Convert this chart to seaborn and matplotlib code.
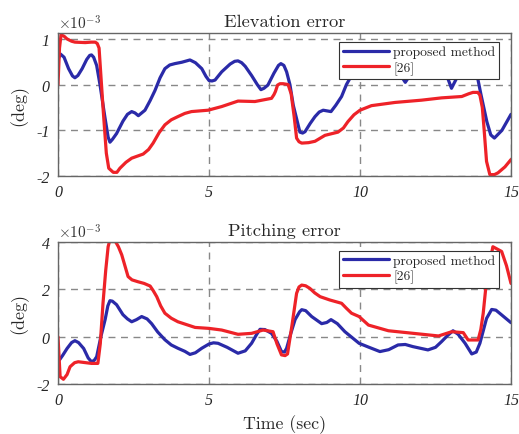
import matplotlib
matplotlib.use("Agg")
import matplotlib.pyplot as plt
import seaborn as sns
import pandas as pd

# ---- data (values in units of 1e-3 deg) ----
t_elev_prop = [0, 0.08, 0.2, 0.35, 0.48, 0.56, 0.66, 0.8, 0.95, 1.05, 1.11, 1.18, 1.28, 1.39, 1.55, 1.66,
               1.72, 1.8, 1.94, 2.15, 2.3, 2.44, 2.55, 2.66, 2.88, 3.05, 3.21, 3.38, 3.54, 3.7, 3.87, 4.1,
               4.37, 4.55, 4.76, 4.9, 5.0, 5.1, 5.2, 5.42, 5.7, 5.85, 5.96, 6.08, 6.2, 6.41, 6.6, 6.72,
               6.82, 6.95, 7.15, 7.3, 7.38, 7.48, 7.57, 7.68, 7.79, 8.01, 8.1, 8.18, 8.35, 8.51, 8.65,
               8.78, 9.04, 9.2, 9.39, 9.55, 9.72, 10.0, 10.4, 10.9, 11.3, 11.5, 11.7, 12.2, 12.7, 13.03,
               13.4, 13.75, 13.9, 14.0, 14.2, 14.33, 14.45, 14.7, 15.0]
v_elev_prop = [0.55, 0.67, 0.6, 0.35, 0.19, 0.15, 0.2, 0.35, 0.55, 0.64, 0.65, 0.6, 0.42, 0.0, -0.7, -1.15,
               -1.26, -1.2, -1.07, -0.8, -0.65, -0.59, -0.62, -0.68, -0.56, -0.35, -0.13, 0.15, 0.35, 0.43, 0.46, 0.49,
               0.54, 0.48, 0.35, 0.18, 0.09, 0.08, 0.1, 0.28, 0.45, 0.51, 0.52, 0.48, 0.4, 0.2, 0.0, -0.11,
               -0.08, -0.01, 0.25, 0.42, 0.46, 0.42, 0.28, 0.0, -0.45, -1.04, -1.06, -1.03, -0.85, -0.7, -0.6,
               -0.56, -0.59, -0.45, -0.26, 0.0, 0.2, 0.6, 0.8, 0.7, 0.25, 0.05, 0.25, 0.6, 0.5, -0.08,
               0.4, 0.7, 0.13, -0.2, -0.81, -1.1, -1.17, -1.0, -0.65]

t_elev_ref = [0, 0.05, 0.1, 0.2, 0.3, 0.45, 0.56, 0.9, 1.1, 1.23, 1.3, 1.36, 1.42, 1.5, 1.6, 1.68, 1.83,
              1.95, 2.05, 2.25, 2.44, 2.65, 2.82, 3.0, 3.15, 3.35, 3.54, 3.75, 3.97, 4.2, 4.42, 4.97,
              5.42, 5.96, 6.52, 7.07, 7.15, 7.2, 7.27, 7.35, 7.45, 7.55, 7.62, 7.72, 7.82, 7.9, 7.98, 8.07,
              8.3, 8.51, 8.84, 9.27, 9.45, 9.6, 9.8, 10.0, 10.38, 11.16, 12.04, 12.7, 13.37, 13.6,
              13.74, 13.9, 13.97, 14.05, 14.1, 14.19, 14.3, 14.45, 14.57, 14.8, 15.0]
v_elev_ref = [0.0, 0.8, 1.09, 1.06, 1.0, 0.95, 0.93, 0.92, 0.93, 0.93, 0.9, 0.8, 0.2, -0.59, -1.5, -1.83, -1.92,
              -1.92, -1.83, -1.7, -1.61, -1.56, -1.52, -1.42, -1.28, -1.05, -0.88, -0.77, -0.7, -0.63, -0.59, -0.56,
              -0.48, -0.36, -0.37, -0.3, -0.22, -0.15, -0.01, 0.02, 0.02, 0.01, 0.0, -0.2, -0.7, -1.17, -1.25, -1.28,
              -1.27, -1.24, -1.11, -1.04, -0.95, -0.81, -0.66, -0.56, -0.46, -0.39, -0.34, -0.29, -0.26, -0.2,
              -0.17, -0.17, -0.23, -0.5, -0.9, -1.68, -1.97, -1.97, -1.93, -1.8, -1.64]

t_pitch_prop = [0, 0.05, 0.15, 0.3, 0.45, 0.56, 0.68, 0.85, 1.0, 1.11, 1.2, 1.28, 1.42, 1.56, 1.65, 1.72,
                1.8, 1.94, 2.15, 2.3, 2.44, 2.6, 2.77, 2.95, 3.1, 3.3, 3.54, 3.75, 3.97, 4.2, 4.37, 4.55,
                4.76, 5.0, 5.15, 5.3, 5.6, 5.96, 6.2, 6.41, 6.58, 6.69, 6.85, 7.07, 7.25, 7.4, 7.5, 7.57,
                7.7, 7.85, 8.0, 8.07, 8.2, 8.4, 8.73, 8.9, 9.04, 9.25, 9.5, 9.97, 10.3, 10.66, 10.95, 11.26,
                11.5, 11.75, 12.25, 12.5, 12.7, 12.9, 13.08, 13.25, 13.48, 13.7, 13.85, 13.97, 14.19, 14.36,
                14.5, 14.69, 15.0]
v_pitch_prop = [-0.9, -0.98, -0.8, -0.5, -0.25, -0.17, -0.25, -0.5, -0.9, -1.06, -1.0, -0.85, 0.0, 0.72, 1.3, 1.52,
                1.5, 1.35, 0.93, 0.75, 0.63, 0.72, 0.85, 0.75, 0.55, 0.2, -0.13, -0.35, -0.49, -0.62, -0.75, -0.68,
                -0.49, -0.31, -0.26, -0.28, -0.45, -0.7, -0.6, -0.28, 0.1, 0.31, 0.3, 0.14, -0.2, -0.63, -0.65, -0.49,
                0.1, 0.72, 1.05, 1.14, 1.1, 0.85, 0.55, 0.6, 0.72, 0.55, 0.21, -0.28, -0.45, -0.63, -0.55, -0.35,
                -0.33, -0.42, -0.56, -0.45, -0.21, 0.05, 0.25, 0.1, -0.28, -0.73, -0.65, -0.28, 0.77, 1.15,
                1.12, 0.92, 0.59]

t_pitch_ref = [0, 0.07, 0.18, 0.3, 0.4, 0.55, 0.67, 1.11, 1.32, 1.4, 1.49, 1.58, 1.66, 1.72, 1.89, 2.0, 2.11,
               2.32, 2.45, 2.65, 2.85, 3.05, 3.15, 3.27, 3.4, 3.54, 3.75, 3.97, 4.54, 5.0, 5.42, 5.96,
               6.41, 6.79, 7.12, 7.25, 7.4, 7.52, 7.6, 7.75, 7.9, 7.98, 8.07, 8.2, 8.34, 8.5, 8.68, 9.0,
               9.39, 9.55, 9.72, 9.97, 10.28, 10.94, 11.77, 12.6, 13.04, 13.42, 13.58, 13.91, 14.0, 14.08,
               14.2, 14.4, 14.69, 14.85, 15.0]
v_pitch_ref = [0.0, -1.69, -1.8, -1.6, -1.27, -1.1, -1.06, -1.13, -1.13, -0.3, 1.41, 2.8, 3.8, 4.1, 4.05, 3.8, 3.46,
               2.54, 2.4, 2.32, 2.25, 2.14, 1.95, 1.69, 1.3, 0.99, 0.78, 0.63, 0.39, 0.35, 0.28, 0.1,
               0.14, 0.28, 0.21, -0.3, -0.77, -0.8, -0.73, 0.5, 1.83, 2.1, 2.18, 2.15, 2.04, 1.85, 1.69, 1.55,
               1.41, 1.2, 0.99, 0.85, 0.49, 0.25, 0.14, 0.03, 0.21, 0.17, -0.14, -0.14, 0.3, 0.99,
               2.5, 3.8, 3.6, 3.0, 2.25]

series_names = ["proposed method", "[26]"]
titles = ["Elevation error", "Pitching error"]
x_ticks = [0, 5, 10, 15]
y_ticks_elev = [-2, -1, 0, 1]
y_ticks_pitch = [-2, 0, 2, 4]

# ---- style ----
sns.set_style("white")
plt.rcParams["font.family"] = ["cmr10", "DejaVu Serif"]
plt.rcParams["axes.formatter.use_mathtext"] = True
plt.rcParams["mathtext.fontset"] = "cm"

colors = {"proposed method": "#2a2aa8", "[26]": "#ee2228"}

fig = plt.figure(figsize=(5.19, 4.35), dpi=100)
ax1 = fig.add_axes([58/519, 1-177/435, 453/519, 143/435])
ax2 = fig.add_axes([58/519, 1-385/435, 453/519, 142/435])

def frame(t_a, v_a, t_b, v_b):
    d1 = pd.DataFrame({"t": t_a, "v": v_a, "s": series_names[0]})
    d2 = pd.DataFrame({"t": t_b, "v": v_b, "s": series_names[1]})
    return pd.concat([d1, d2], ignore_index=True)

df1 = frame(t_elev_prop, v_elev_prop, t_elev_ref, v_elev_ref)
df2 = frame(t_pitch_prop, v_pitch_prop, t_pitch_ref, v_pitch_ref)

tick_font = dict(family=["Liberation Serif", "DejaVu Serif"], style="italic", size=11.5)

for ax, df, yt, ylim, title in [(ax1, df1, y_ticks_elev, (-2, 1.13), titles[0]),
                                (ax2, df2, y_ticks_pitch, (-2, 4), titles[1])]:
    sns.lineplot(data=df, x="t", y="v", hue="s", palette=colors, ax=ax,
                 linewidth=2.3, sort=False, estimator=None, legend=True)
    ax.set_xlim(0, 15)
    ax.set_ylim(*ylim)
    ax.set_xticks(x_ticks)
    ax.set_yticks(yt)
    ax.set_xticklabels([str(x) for x in x_ticks], fontdict=tick_font)
    ax.set_yticklabels([str(y) for y in yt], fontdict=tick_font)
    ax.grid(True, linestyle=(0, (5, 4)), color="#888888", linewidth=1.0)
    ax.tick_params(direction="in", length=3, color="#555555", pad=6)
    for sp in ax.spines.values():
        sp.set_color("#666666")
        sp.set_linewidth(1.0)
    ax.set_xlabel("")
    ax.set_ylabel("(deg)", fontsize=13, labelpad=6)
    ax.set_title(title, fontsize=13.3, pad=5)
    ax.text(0.0, 1.01, r"$\times10^{-3}$", transform=ax.transAxes, fontsize=11,
            ha="left", va="bottom", color="#333333", style="italic")
    leg = ax.legend(loc="upper right", bbox_to_anchor=(0.974, 0.94), fontsize=9.8,
                    frameon=True, fancybox=False, framealpha=1.0, edgecolor="#333333",
                    handlelength=3.4, handletextpad=0.3, borderpad=0.3, labelspacing=0.2,
                    borderaxespad=0)
    leg.get_frame().set_linewidth(0.8)
    for line in leg.get_lines():
        line.set_linewidth(2.3)

ax2.set_xlabel("Time (sec)", fontsize=12.8, labelpad=4)

fig.savefig("out.png", dpi=100, facecolor="white")
